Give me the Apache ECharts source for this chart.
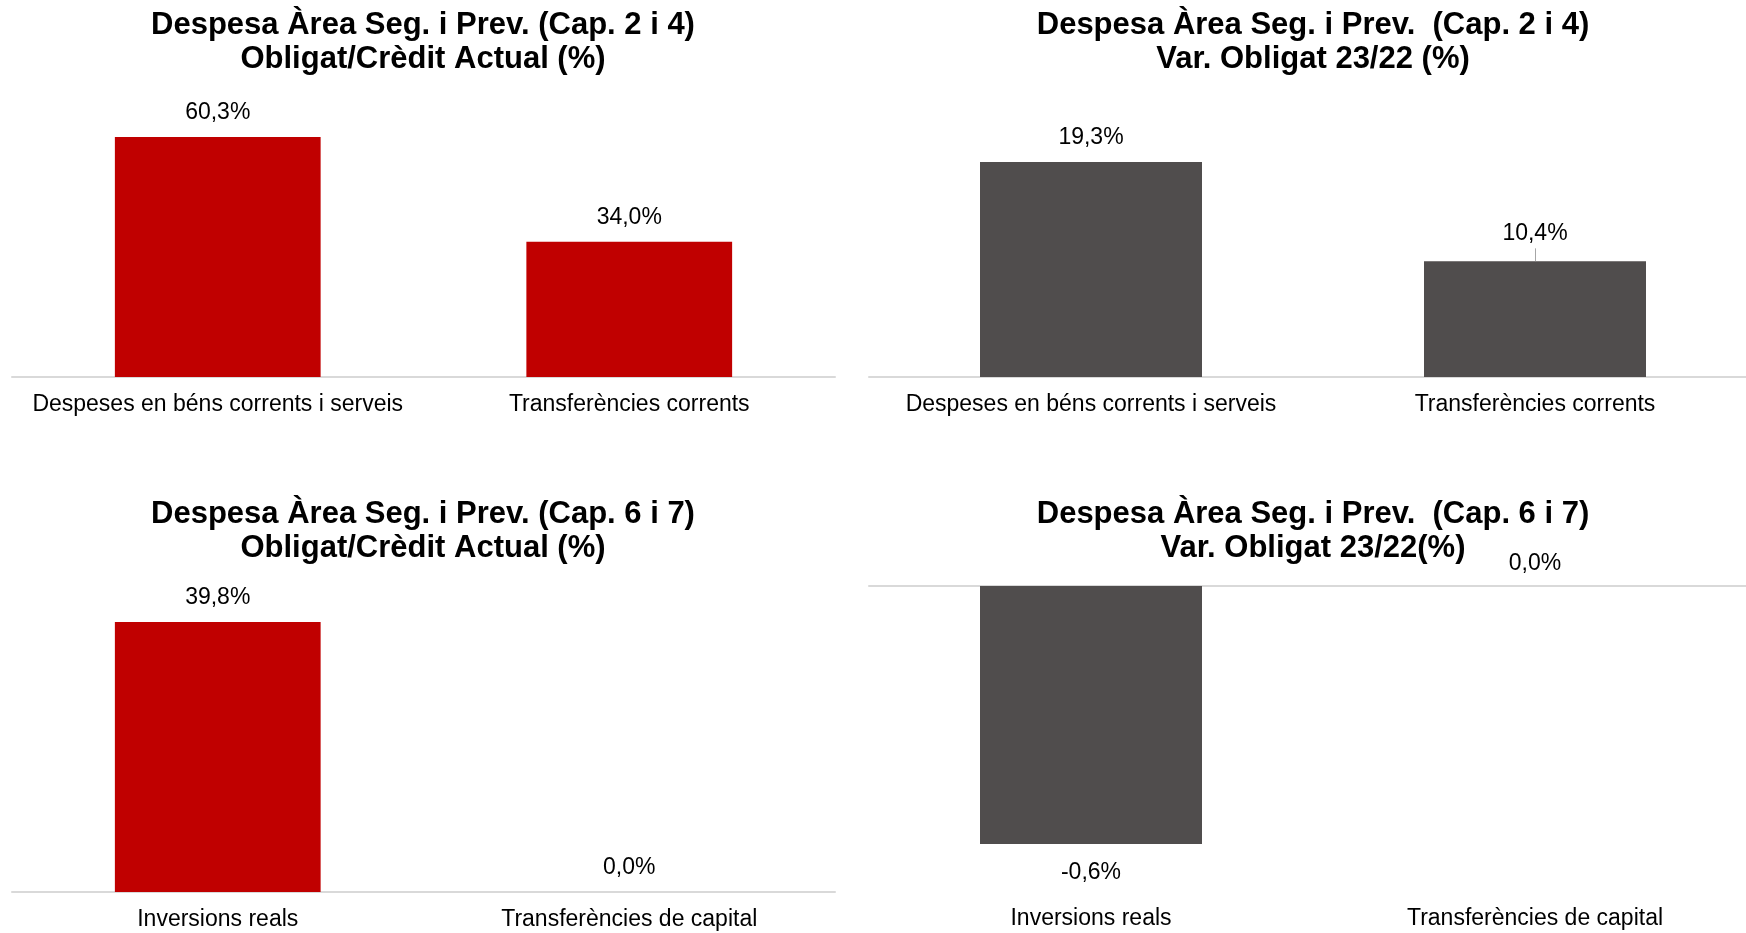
<!DOCTYPE html>
<html>
<head>
<meta charset="utf-8">
<script src="https://cdn.jsdelivr.net/npm/echarts@6/dist/echarts.min.js"></script>
<style>
html,body{margin:0;padding:0;background:#fff;overflow:hidden;width:1746px;height:933px;}
#c{width:1760px;height:933px;}
</style>
</head>
<body>
<div id="c"></div>
<script>
// ---- data ----
const catsCap24 = ['Despeses en béns corrents i serveis', 'Transferències corrents'];
const catsCap67 = ['Inversions reals', 'Transferències de capital'];
const obligCredit24 = [60.3, 34.0];
const varOblig24 = [19.3, 10.4];
const obligCredit67 = [39.8, 0.0];
const varOblig67 = [-0.6, 0.0];
const titles = [
  'Despesa Àrea Seg. i Prev. (Cap. 2 i 4)\nObligat/Crèdit Actual (%)',
  'Despesa Àrea Seg. i Prev.  (Cap. 2 i 4)\nVar. Obligat 23/22 (%)',
  'Despesa Àrea Seg. i Prev. (Cap. 6 i 7)\nObligat/Crèdit Actual (%)',
  'Despesa Àrea Seg. i Prev.  (Cap. 6 i 7)\nVar. Obligat 23/22(%)'
];

const RED = '#C00000';
const GREY = '#504D4D';
const AXIS = '#D9D9D9';
const FONT = '"Liberation Sans", Arial, sans-serif';
const FS = 23;

const fmt = p => p.value.toFixed(1).replace('.', ',') + '%';

const chart = echarts.init(document.getElementById('c'), null, {renderer: 'canvas'});

function catAxis(grid, cats, opts) {
  return Object.assign({
    type: 'category', gridIndex: grid, data: cats,
    axisTick: {show: false},
    axisLine: {show: true, onZero: true, lineStyle: {color: AXIS, width: 2}},
    axisLabel: {color: '#000', fontSize: FS, fontFamily: FONT, margin: 16, interval: 0}
  }, opts || {});
}
function valAxis(grid, min, max) {
  return {type: 'value', gridIndex: grid, min: min, max: max, show: false, splitLine: {show: false}};
}
function label(extra) {
  return Object.assign({show: true, position: 'top', distance: 13, color: '#000', fontSize: FS, fontFamily: FONT, formatter: fmt}, extra || {});
}

const titleGraphics = [
  [423, 8], [1313, 8], [423, 497], [1313, 497]
].map((pos, i) => ({
  type: 'text', x: pos[0], y: pos[1], silent: true,
  style: {
    text: titles[i], fill: '#000', fontSize: 31, fontWeight: 'bold', fontFamily: FONT,
    align: 'center', verticalAlign: 'top', lineHeight: 34.5
  }
}));

const option = {
  backgroundColor: '#fff',
  animation: false,
  graphic: titleGraphics,
  grid: [
    {left: 12, top: 98.4, width: 823, height: 278.6},
    {left: 869, top: 98.5, width: 888, height: 278.5},
    {left: 12, top: 586.7, width: 823, height: 305.3},
    {left: 869, top: 586, width: 888, height: 301}
  ],
  xAxis: [
    catAxis(0, catsCap24),
    catAxis(1, catsCap24),
    catAxis(2, catsCap67),
    catAxis(3, catsCap67, {axisLine: {show: false, onZero: false}, axisLabel: {color: '#000', fontSize: FS, fontFamily: FONT, margin: 20, interval: 0}}),
    catAxis(3, catsCap67, {axisLabel: {show: false}})
  ],
  yAxis: [
    valAxis(0, 0, 70),
    valAxis(1, 0, 25),
    valAxis(2, 0, 45),
    valAxis(3, -0.7, 0)
  ],
  series: [
    {type: 'bar', xAxisIndex: 0, yAxisIndex: 0, data: obligCredit24, barCategoryGap: '50%',
     itemStyle: {color: RED}, label: label()},
    {type: 'bar', xAxisIndex: 1, yAxisIndex: 1, barCategoryGap: '50%',
     data: varOblig24.map((v, i) => i === 1 ? {value: v, label: {distance: 16}} : v),
     itemStyle: {color: GREY}, label: label(),
     markLine: {
       silent: true, symbol: 'none', label: {show: false},
       lineStyle: {color: '#A6A6A6', width: 1, type: 'solid'},
       data: [[{coord: [1, varOblig24[1]]}, {coord: [1, varOblig24[1] + 1.15]}]]
     }},
    {type: 'bar', xAxisIndex: 2, yAxisIndex: 2, data: obligCredit67, barCategoryGap: '50%',
     itemStyle: {color: RED}, label: label({distance: 13})},
    {type: 'bar', xAxisIndex: 3, yAxisIndex: 3, barCategoryGap: '50%',
     data: varOblig67.map(v => v < 0 ? {value: v, label: {position: 'bottom', distance: 17}} : {value: v}),
     itemStyle: {color: GREY}, label: label({distance: 11})}
  ]
};
chart.setOption(option);
</script>
</body>
</html>
